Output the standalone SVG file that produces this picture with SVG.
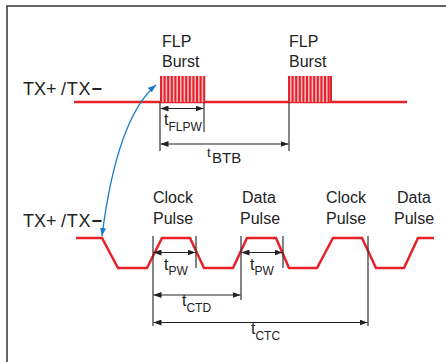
<svg xmlns="http://www.w3.org/2000/svg" width="446" height="362" viewBox="0 0 446 362">
<defs>
<style>
.t{font-family:"Liberation Sans",Arial,sans-serif;font-size:16px;fill:#222}
.tx{font-size:18px}
.s{font-size:12px}
.sig{fill:none;stroke:#e8202a;stroke-width:2.5;stroke-linejoin:miter}
.bar{stroke:#e8202a;stroke-width:2}
.tick{stroke:#333;stroke-width:1.2}
.dim{stroke:#222;stroke-width:1;marker-start:url(#ah);marker-end:url(#ah)}
</style>
<marker id="ah" viewBox="0 0 8 6" refX="8" refY="3" markerWidth="8" markerHeight="6" markerUnits="userSpaceOnUse" orient="auto-start-reverse">
<path d="M0,0 L8,3 L0,6 Z" fill="#222"/>
</marker>
<marker id="bh" viewBox="0 0 8 6" refX="8" refY="3" markerWidth="8" markerHeight="6" markerUnits="userSpaceOnUse" orient="auto-start-reverse">
<path d="M0,0 L8,3 L0,6 Z" fill="#1a7ac8"/>
</marker>
</defs>
<rect x="7" y="6" width="460" height="380" fill="none" stroke="#333" stroke-width="1.5"/>

<g id="top-signal">
<text class="t tx" x="23" y="95">TX+<tspan x="61" letter-spacing="0.8">/TX<tspan font-weight="bold">−</tspan></tspan></text>
<line class="sig" x1="74" y1="102" x2="407" y2="102"/>
<g id="burst1">
<rect x="160" y="76" width="44" height="26" fill="#f7b8bb"/>
<path class="bar" d="M161,76V102M164.6,76V102M168.2,76V102M171.8,76V102M175.4,76V102M179,76V102M182.6,76V102M186.2,76V102M189.8,76V102M193.4,76V102M197,76V102M200.6,76V102M204.2,76V102"/>
</g>
<g id="burst2">
<rect x="288" y="76" width="43" height="26" fill="#f7b8bb"/>
<path class="bar" d="M289,76V102M292.6,76V102M296.2,76V102M299.8,76V102M303.4,76V102M307,76V102M310.6,76V102M314.2,76V102M317.8,76V102M321.4,76V102M325,76V102M328.6,76V102M331,76V102"/>
</g>
<text class="t" x="162" y="47">FLP</text>
<text class="t" x="162" y="67">Burst</text>
<text class="t" x="289" y="47">FLP</text>
<text class="t" x="289" y="67">Burst</text>
</g>

<g id="bottom-signal">
<text class="t tx" x="23" y="227">TX+<tspan x="61" letter-spacing="0.8">/TX<tspan font-weight="bold">−</tspan></tspan></text>
<polyline class="sig" points="76,238 102,238 118,268 147,268 162,238 190,238 204,268 233,268 247,238 276,238 289,268 317,268 333,238 362,238 376,268 404,268 418,238 434,238"/>
<text class="t" x="153" y="203">Clock</text>
<text class="t" x="153" y="224">Pulse</text>
<text class="t" x="242" y="203">Data</text>
<text class="t" x="240" y="224">Pulse</text>
<text class="t" x="326" y="203">Clock</text>
<text class="t" x="326" y="224">Pulse</text>
<text class="t" x="397" y="203">Data</text>
<text class="t" x="394" y="224">Pulse</text>
</g>

<g id="connectors">
<path d="M102,236 Q117,118 156,85" fill="none" stroke="#1a7ac8" stroke-width="1.3" marker-start="url(#bh)" marker-end="url(#bh)"/>
<line class="tick" x1="160" y1="102" x2="160" y2="151"/>
<line class="tick" x1="204" y1="102" x2="204" y2="132"/>
<line class="tick" x1="289" y1="102" x2="289" y2="151"/>
<line class="dim" x1="160.5" y1="108.5" x2="203.5" y2="108.5"/>
<line class="dim" x1="160.5" y1="144" x2="288.5" y2="144"/>
<line class="tick" x1="153" y1="236" x2="153" y2="326"/>
<line class="tick" x1="196" y1="236" x2="196" y2="268"/>
<line class="tick" x1="241" y1="236" x2="241" y2="300"/>
<line class="tick" x1="283" y1="236" x2="283" y2="268"/>
<line class="tick" x1="368" y1="236" x2="368" y2="326"/>
<line class="dim" x1="153.5" y1="252.5" x2="195.5" y2="252.5"/>
<line class="dim" x1="241.5" y1="252.5" x2="282.5" y2="252.5"/>
<line class="dim" x1="153.5" y1="295" x2="240.5" y2="295"/>
<line class="dim" x1="153.5" y1="322.5" x2="367.5" y2="322.5"/>
</g>

<g id="labels">
<text class="t" x="164" y="125">t<tspan class="s" dy="6">FLPW</tspan></text>
<text class="t" x="207" y="157" style="font-size:13px">t</text>
<text class="t" x="212" y="163" style="font-size:15px">BTB</text>
<text class="t" x="164" y="270">t<tspan class="s" dy="5">PW</tspan></text>
<text class="t" x="250" y="270">t<tspan class="s" dy="5">PW</tspan></text>
<text class="t" x="182" y="306">t<tspan class="s" dy="6">CTD</tspan></text>
<text class="t" x="251" y="334">t<tspan class="s" dy="6">CTC</tspan></text>
</g>
</svg>
